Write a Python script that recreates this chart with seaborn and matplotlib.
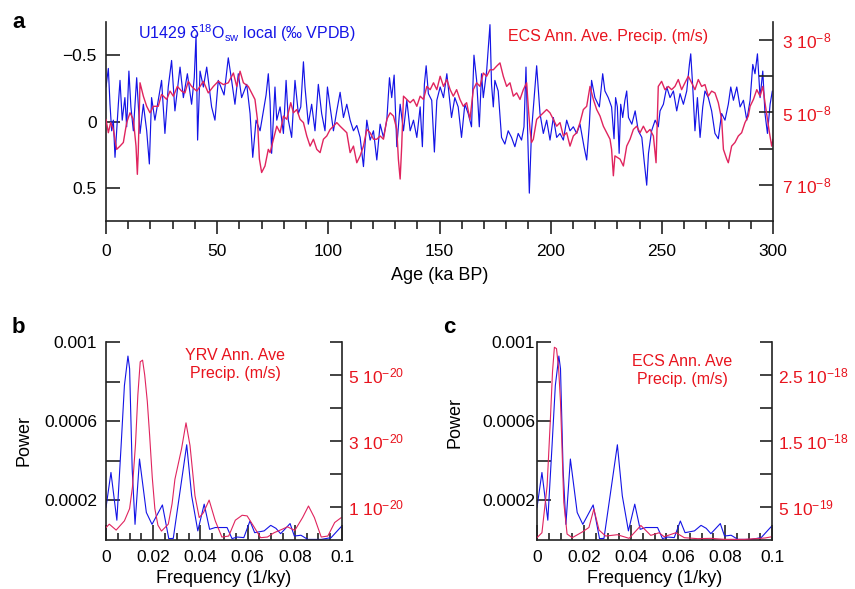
import numpy as np
import pandas as pd
import matplotlib
matplotlib.use("Agg")
import matplotlib.pyplot as plt
from matplotlib.ticker import FixedLocator, MultipleLocator
import seaborn as sns

sns.set_style("ticks")
plt.rcParams['font.family'] = ['Liberation Sans', 'DejaVu Sans']
plt.rcParams['mathtext.fontset'] = 'custom'
plt.rcParams['mathtext.rm'] = 'Liberation Sans'
plt.rcParams['mathtext.it'] = 'Liberation Sans:italic'
plt.rcParams['mathtext.bf'] = 'Liberation Sans:bold'
for k in ('text.color', 'axes.labelcolor', 'xtick.color', 'ytick.color'):
    plt.rcParams[k] = 'black'

# ---------------- data: panel a ----------------
blue_age = [0.0, 1.05, 1.8, 2.55, 3.3, 4.05, 4.8, 5.55, 6.3, 7.3, 8.5, 9.3, 10.3, 11.2, 12.3, 13.8,
            15.3, 16.8, 18.3, 19.5, 20.5, 22.0, 23.5, 25.0, 26.5, 28.0, 29.5, 31.0, 33.3, 34.8, 36.6,
            38.5, 39.7, 40.5, 41.2, 42.3, 43.8, 45.3, 47.5, 49.0, 50.5, 53.1, 55.0, 56.5, 58.0, 59.5,
            61.0, 63.3, 64.8, 66.0, 67.5, 69.3, 70.8, 72.0, 73.0, 73.8, 74.5, 76.0, 76.8, 78.3, 79.8,
            81.0, 82.0, 83.5, 85.0, 86.5, 87.6, 88.8, 89.5, 91.0, 92.5, 94.0, 95.5, 97.0, 98.5, 99.6,
            100.8, 102.3, 103.8, 105.3, 106.8, 108.3, 109.8, 111.3, 112.8, 114.3, 115.8, 117.3, 118.8,
            120.3, 121.8, 123.3, 124.8, 126.3, 127.5, 128.5, 129.6, 130.8, 132.3, 133.8, 135.3, 136.8,
            138.3, 139.8, 141.3, 142.3, 143.2, 144.0, 145.0, 146.5, 147.7, 148.8, 150.3, 151.8, 153.3,
            155.4, 156.9, 158.4, 159.9, 161.4, 162.9, 164.4, 165.5, 166.7, 167.9, 168.9, 169.7, 171.2,
            172.7, 173.4, 174.2, 174.9, 176.4, 177.9, 179.4, 180.9, 182.4, 183.9, 185.4, 186.9, 188.0,
            188.9, 189.5, 190.4, 191.4, 192.5, 193.7, 195.2, 196.7, 198.2, 199.7, 201.2, 202.7, 204.2,
            205.7, 207.2, 208.7, 210.2, 211.7, 213.2, 215.0, 216.2, 217.4, 218.4, 219.9, 221.9, 223.4,
            224.4, 225.9, 227.4, 228.5, 229.2, 230.0, 230.8, 231.5, 232.4, 233.4, 234.2, 235.0, 236.5,
            238.0, 239.4, 241.0, 242.0, 243.2, 244.0, 245.4, 247.0, 248.4, 249.2, 250.7, 252.2, 253.7,
            255.2, 256.7, 258.2, 259.7, 261.2, 262.4, 263.0, 263.9, 264.9, 266.0, 267.2, 268.4, 269.4,
            270.9, 272.4, 273.9, 275.4, 276.9, 278.4, 279.9, 281.0, 282.2, 283.7, 285.2, 286.7, 288.2,
            289.7, 290.9, 291.9, 293.0, 294.2, 295.4, 296.4, 297.5, 298.7, 299.7]
blue_d18o = [-0.26, -0.40, -0.13, 0.07, -0.01, 0.27, 0.07, -0.13, -0.31, -0.01, -0.18, 0.04, -0.38, -0.11, 0.07, -0.33,
             0.09, -0.13, 0.07, 0.32, -0.18, -0.01, -0.16, -0.31, 0.09, -0.26, -0.46, -0.08, -0.41, -0.18, -0.36,
             -0.13, -0.33, -0.65, 0.14, -0.38, -0.26, -0.41, -0.11, -0.01, -0.31, -0.20, -0.48, -0.31, -0.13, -0.36,
             -0.18, -0.28, -0.06, 0.27, -0.01, 0.07, -0.08, -0.20, -0.36, -0.15, 0.24, -0.26, -0.01, -0.11, 0.09,
             -0.31, -0.01, 0.12, -0.31, -0.06, -0.11, -0.45, -0.26, 0.02, -0.13, 0.07, -0.28, -0.06, 0.07, -0.26,
             -0.11, 0.07, -0.08, -0.22, -0.03, -0.13, -0.01, 0.07, 0.03, 0.12, 0.34, -0.01, 0.14,
             0.07, 0.29, 0.02, 0.12, -0.01, -0.33, -0.18, -0.35, 0.19, -0.13, 0.07, -0.16, 0.07,
             -0.01, 0.12, -0.11, 0.19, -0.28, -0.42, -0.21, -0.16, 0.23, -0.16, -0.26, -0.18, -0.36,
             -0.03, -0.18, -0.11, 0.12, -0.13, -0.06, 0.04, -0.50, -0.31, 0.04, -0.36, -0.18, -0.38,
             -0.73, -0.28, -0.11, -0.31, -0.23, 0.12, 0.17, 0.07, 0.12, 0.19, 0.09, 0.14, 0.04,
             -0.41, -0.01, 0.54, 0.07, -0.16, -0.42, -0.06, 0.09, -0.01, 0.14, -0.03, 0.12, 0.09,
             0.14, -0.01, 0.07, 0.04, 0.09, 0.02, 0.19, 0.29, 0.02, -0.31, -0.18, -0.11, -0.36,
             -0.23, -0.18, -0.11, 0.13, -0.18, -0.11, 0.24, -0.13, -0.03, -0.16, -0.23, -0.03, 0.02,
             -0.08, 0.07, 0.12, 0.29, 0.48, 0.24, 0.07, -0.01, 0.04, -0.08, -0.13, -0.26, -0.18,
             -0.23, -0.08, -0.21, -0.13, -0.23, -0.43, -0.51, -0.26, 0.07, -0.18, 0.12, -0.11, -0.23,
             -0.18, -0.08, 0.09, 0.13, -0.06, -0.01, -0.13, -0.26, -0.16, -0.26, -0.11, -0.16, -0.01,
             -0.16, -0.43, -0.36, -0.51, -0.18, -0.38, -0.06, 0.09, -0.13, -0.23]

red_age = [0.0, 1.05, 2.1, 3.3, 4.8, 6.3, 7.8, 9.3, 10.8, 12.3, 13.5, 14.1, 14.5, 15.3, 16.8, 18.3,
           19.8, 21.3, 23.5, 25.0, 27.3, 28.8, 30.3, 32.1, 34.0, 35.5, 37.0, 38.5, 40.8, 42.3, 43.8,
           46.0, 48.3, 50.5, 52.8, 55.0, 57.3, 58.8, 60.3, 61.8, 64.0, 65.5, 67.0, 68.1, 69.0, 70.0,
           71.5, 73.0, 73.8, 75.3, 76.8, 78.3, 79.8, 81.3, 83.1, 84.3, 85.8, 87.3, 88.8, 90.3, 91.8,
           93.3, 94.8, 96.3, 97.8, 99.3, 100.8, 102.3, 103.8, 105.3, 106.8, 108.3, 109.8, 111.3, 112.8,
           114.3, 115.8, 117.3, 118.8, 120.3, 121.8, 123.3, 124.8, 126.3, 127.8, 129.3, 130.8, 131.5,
           132.3, 133.0, 133.8, 135.3, 136.8, 138.3, 139.8, 141.3, 142.8, 144.3, 145.8, 147.3, 148.8,
           150.3, 151.8, 153.3, 154.8, 156.2, 157.7, 159.2, 160.7, 162.2, 163.7, 165.2, 166.7, 168.2,
           169.7, 171.2, 172.7, 174.2, 175.7, 177.2, 178.7, 180.2, 181.7, 183.2, 184.7, 186.2, 187.7,
           189.2, 189.9, 190.7, 191.4, 192.2, 193.7, 195.2, 196.7, 198.2, 199.7, 201.2, 202.7, 204.2,
           205.7, 207.2, 208.7, 210.2, 211.7, 213.2, 214.7, 216.2, 217.7, 219.2, 220.7, 222.2, 223.7,
           225.2, 226.7, 227.4, 228.2, 228.9, 231.2, 232.7, 234.2, 235.7, 237.2, 238.7, 240.2, 241.7,
           243.2, 244.7, 246.2, 247.4, 248.4, 249.9, 251.4, 252.9, 254.4, 255.9, 257.4, 258.9, 260.4,
           261.9, 263.4, 264.9, 266.4, 267.9, 269.4, 270.9, 272.4, 273.9, 275.4, 276.9, 277.7, 279.2,
           279.9, 281.4, 282.9, 284.4, 285.9, 287.4, 288.9, 289.7, 291.2, 292.7, 294.2, 295.4, 296.4,
           297.5, 298.4, 299.4, 300.0]
red_precip_e8 = [5.19, 5.56, 5.28, 5.47, 6.02, 5.93, 5.83, 5.28, 5.01, 5.19, 5.93, 6.71, 6.11, 4.18, 4.55, 4.83,
                 5.01, 4.83, 4.83, 4.50, 4.64, 4.41, 4.55, 4.28, 4.41, 4.46, 4.14, 4.28, 4.41, 4.28, 4.14,
                 4.46, 4.28, 4.14, 4.23, 4.18, 3.91, 4.28, 3.86, 4.18, 4.28, 4.46, 4.64, 5.19, 6.29, 6.66,
                 6.48, 6.02, 6.11, 5.74, 5.38, 5.56, 5.10, 5.19, 4.73, 5.01, 4.92, 5.19, 5.28, 5.65, 5.93,
                 5.74, 6.02, 6.11, 5.74, 5.65, 5.47, 5.38, 5.28, 5.38, 5.47, 5.56, 6.11, 5.93, 6.39,
                 6.20, 5.93, 5.47, 5.56, 5.74, 5.74, 5.65, 5.74, 5.19, 5.01, 5.10, 5.47, 6.29,
                 6.84, 5.93, 4.55, 4.64, 4.73, 4.64, 4.83, 4.55, 4.64, 4.28, 4.37, 4.18, 4.37,
                 4.00, 4.28, 4.09, 4.37, 4.55, 4.37, 4.64, 4.83, 4.73, 5.19, 4.37, 4.18, 4.28,
                 3.91, 4.00, 3.82, 3.82, 3.72, 3.63, 4.00, 4.28, 4.18, 4.55, 4.46, 4.64, 4.37,
                 4.18, 4.83, 5.47, 5.83, 5.74, 5.19, 5.10, 5.01, 4.92, 5.01, 5.19, 5.38, 5.28,
                 5.65, 5.56, 5.93, 5.65, 5.56, 5.28, 4.92, 4.83, 4.28, 4.64, 4.92, 5.10, 5.38,
                 5.56, 5.74, 6.02, 6.75, 6.20, 6.29, 6.48, 5.93, 5.74, 5.47, 5.38, 5.56, 5.38,
                 5.56, 5.47, 5.65, 6.39, 4.28, 4.14, 4.37, 4.28, 4.37, 4.28, 4.09, 4.37, 4.18,
                 4.00, 4.18, 4.37, 4.09, 4.28, 4.23, 4.55, 4.41, 4.46, 4.73, 5.19, 6.02, 6.29,
                 6.39, 5.93, 5.83, 5.65, 5.56, 5.28, 5.10, 4.83, 4.64, 4.37, 4.55, 4.28, 4.73,
                 5.19, 5.56, 5.93, 5.74]

# ---------------- data: spectra ----------------
blue_freq = [0.0, 0.0021, 0.0046, 0.0064, 0.0078, 0.0093, 0.0100, 0.0111, 0.0123, 0.0142, 0.0171, 0.0195,
             0.0239, 0.0266, 0.0285, 0.0313, 0.0342, 0.0363, 0.0389, 0.0416, 0.0439, 0.0463, 0.0513,
             0.0534, 0.0556, 0.0584, 0.0610, 0.0630, 0.0670, 0.0698, 0.0720, 0.0740, 0.0780, 0.0798,
             0.0826, 0.0855, 0.0912, 0.0954, 0.0997]
blue_power_e3 = [0.164, 0.341, 0.100, 0.476, 0.780, 0.929, 0.865, 0.358, 0.079, 0.409, 0.139, 0.079,
                 0.177, 0.007, 0.008, 0.240, 0.481, 0.223, 0.046, 0.181, 0.054, 0.063, 0.063,
                 0.007, 0.015, 0.012, 0.096, 0.037, 0.046, 0.074, 0.059, 0.032, 0.083, 0.020,
                 0.024, 0.003, 0.003, 0.012, 0.068]

yrv_freq = [0.0, 0.0014, 0.0043, 0.0078, 0.0100, 0.0112, 0.0125, 0.0135, 0.0145, 0.0155, 0.0164, 0.0175,
            0.0185, 0.0196, 0.0207, 0.0220, 0.0235, 0.0264,
            0.0280, 0.0292, 0.0320, 0.0339, 0.0356, 0.0368, 0.0377, 0.0395, 0.0413, 0.0437, 0.0463, 0.0491, 0.0520,
            0.0548, 0.0577, 0.0598, 0.0627, 0.0655, 0.0684, 0.0712, 0.0748, 0.0769, 0.0800, 0.0833,
            0.0858, 0.0883, 0.0912, 0.0940, 0.0969, 0.0997]
yrv_power_e20 = [0.375, 0.48, 0.30, 0.58, 0.95, 1.60, 2.90, 4.40, 5.40, 5.45, 5.00, 4.20,
                 3.16, 1.90, 0.95, 0.45, 0.27, 0.48,
                 1.10, 1.84, 2.76, 3.55, 2.86, 2.00, 1.34, 0.68, 0.83, 1.21, 0.58, 0.09, 0.12,
                 0.60, 0.75, 0.73, 0.40, 0.07, 0.09, 0.22, 0.33, 0.40, 0.29, 0.68,
                 1.03, 0.68, 0.09, 0.12, 0.53, 0.68]

ecs_freq = [0.0, 0.0021, 0.0043, 0.0057, 0.0066, 0.0074, 0.0083, 0.0092, 0.0100, 0.0114, 0.0128, 0.0150,
            0.0192, 0.0221, 0.0242, 0.0264, 0.0292, 0.0342, 0.0392, 0.0442, 0.0484, 0.0520, 0.0541,
            0.0591, 0.0627, 0.0684, 0.0740, 0.0798, 0.0883, 0.0970, 0.1000]
ecs_power_e18 = [0.035, 0.11, 0.82, 1.83, 2.55, 2.92, 2.90, 2.60, 2.09, 0.57, 0.09, 0.035,
                 0.12, 0.19, 0.47, 0.15, 0.06, 0.08, 0.025, 0.22, 0.07, 0.11, 0.05,
                 0.11, 0.035, 0.02, 0.025, 0.01, 0.01, 0.03, 0.05]

BLUE = '#1414e6'
RED_LINE = '#e0245e'
RED_TXT = '#e8141e'
SPINE = '#222222'

df_blue = pd.DataFrame({'age': blue_age, 'd18o': blue_d18o})
df_red = pd.DataFrame({'age': red_age, 'precip': np.array(red_precip_e8) * 1e-8})
df_bs = pd.DataFrame({'f': blue_freq, 'p': np.array(blue_power_e3) * 1e-3})
df_yrv = pd.DataFrame({'f': yrv_freq, 'p': np.array(yrv_power_e20) * 1e-20})
df_ecs = pd.DataFrame({'f': ecs_freq, 'p': np.array(ecs_power_e18) * 1e-18})

fig = plt.figure(figsize=(8.55, 5.89), dpi=100)
W, H = 855, 589


def rect(l, r, t, b):
    return [l / W, 1 - b / H, (r - l) / W, (b - t) / H]


def style_pair(ax, ax2):
    for a in (ax, ax2):
        a.spines['top'].set_visible(False)
        for s in a.spines.values():
            s.set_color(SPINE)
            s.set_linewidth(1.2)
    ax.spines['right'].set_visible(False)
    ax2.spines['left'].set_visible(False)
    ax2.spines['bottom'].set_visible(False)
    ax.set_facecolor('none')


# ---------------- panel a ----------------
axa = fig.add_axes(rect(106, 773, 22, 221))
axa2 = axa.twinx()
sns.lineplot(data=df_blue, x='age', y='d18o', ax=axa, color=BLUE, lw=0.85, estimator=None, sort=False)
sns.lineplot(data=df_red, x='age', y='precip', ax=axa2, color=RED_LINE, lw=1.0, estimator=None, sort=False)
style_pair(axa, axa2)
axa.set_xlim(0, 300)
axa.set_ylim(0.75, -0.75)
axa2.set_ylim(8e-8, 2.5e-8)
axa.set_yticks([-0.5, 0, 0.5])
axa.set_yticklabels(['\u22120.5', '0', '0.5'])
axa.xaxis.set_major_locator(MultipleLocator(50))
axa.xaxis.set_minor_locator(MultipleLocator(10))
axa.tick_params(axis='x', which='major', direction='out', length=9.5, width=1.2, pad=7, labelsize=12.5, color=SPINE)
axa.tick_params(axis='x', which='minor', direction='out', length=6, width=1.2, color=SPINE)
axa.tick_params(axis='y', which='major', direction='in', length=10, width=1.2, pad=6.5, labelsize=12.5, color=SPINE)
axa2.set_yticks([3e-8, 5e-8, 7e-8])
axa2.set_yticklabels([r'3 10$^{\mathregular{-8}}$', r'5 10$^{\mathregular{-8}}$', r'7 10$^{\mathregular{-8}}$'])
axa2.yaxis.set_minor_locator(FixedLocator([4e-8, 6e-8]))
axa2.tick_params(axis='y', which='both', direction='in', length=10, width=1.2, pad=6.5, labelsize=12.5,
                 labelcolor=RED_TXT, color=SPINE)
axa.set_xlabel('Age (ka BP)', fontsize=13, labelpad=6)
axa.set_ylabel('')
axa2.set_ylabel('')

fig.text(138 / W, 1 - 39 / H, 'U1429 \u03b4$^{\\mathregular{18}}$O$_{\\mathregular{sw}}$ local (\u2030 VPDB)',
         color=BLUE, fontsize=11.5, va='baseline', ha='left')
fig.text(508 / W, 1 - 41.5 / H, 'ECS Ann. Ave. Precip. (m/s)', color=RED_TXT, fontsize=11.5,
         va='baseline', ha='left')
fig.text(12 / W, 1 - 28 / H, 'a', fontsize=16, fontweight='bold', va='baseline')


# ---------------- panels b, c ----------------
def spectrum_panel(l, r, df_red_s, ylim2, ticks2, labels2, minor2, text_xy, text, ypad, power_y):
    ax = fig.add_axes(rect(l, r, 342, 540))
    ax2 = ax.twinx()
    sns.lineplot(data=df_bs, x='f', y='p', ax=ax, color=BLUE, lw=0.8, estimator=None, sort=False)
    sns.lineplot(data=df_red_s, x='f', y='p', ax=ax2, color=RED_LINE, lw=0.8, estimator=None, sort=False)
    style_pair(ax, ax2)
    ax.set_xlim(0, 0.1)
    ax.set_ylim(0, 0.001)
    ax2.set_ylim(*ylim2)
    ax.set_xticks([0, 0.02, 0.04, 0.06, 0.08, 0.1])
    ax.set_xticklabels(['0', '0.02', '0.04', '0.06', '0.08', '0.1'])
    ax.xaxis.set_minor_locator(MultipleLocator(0.005))
    ax.set_yticks([0.0002, 0.0006, 0.001])
    ax.set_yticklabels(['0.0002', '0.0006', '0.001'])
    ax.yaxis.set_minor_locator(FixedLocator([0.0004, 0.0008]))
    ax.tick_params(axis='x', which='major', direction='in', length=10.5, width=1.2, pad=7, labelsize=12.5, color=SPINE)
    ax.tick_params(axis='x', which='minor', direction='in', length=5, width=1.2, color=SPINE)
    ax.tick_params(axis='y', which='both', direction='in', length=10, width=1.2, pad=ypad, labelsize=12.5, color=SPINE)
    ax2.set_yticks(ticks2)
    ax2.set_yticklabels(labels2)
    ax2.yaxis.set_minor_locator(FixedLocator(minor2))
    ax2.tick_params(axis='y', which='both', direction='in', length=9, width=1.2, pad=4.5, labelsize=12.5,
                    labelcolor=RED_TXT, color=SPINE)
    ax.set_xlabel('Frequency (1/ky)', fontsize=13, labelpad=4)
    ax.set_ylabel('')
    ax2.set_ylabel('')
    fig.text((l - 82) / W, 1 - power_y / H, 'Power', rotation=90, fontsize=13, ha='center', va='center')
    fig.text(text_xy[0] / W, 1 - text_xy[1] / H, text, color=RED_TXT, fontsize=11.5, ha='center',
             va='top', linespacing=1.25)
    return ax


spectrum_panel(106, 342, df_yrv, (0, 6e-20), [1e-20, 3e-20, 5e-20],
               [r'1 10$^{\mathregular{-20}}$', r'3 10$^{\mathregular{-20}}$', r'5 10$^{\mathregular{-20}}$'],
               [2e-20, 4e-20, 6e-20], (235, 348), 'YRV Ann. Ave\nPrecip. (m/s)', 6.5, 441)
spectrum_panel(537, 772, df_ecs, (0, 3e-18), [0.5e-18, 1.5e-18, 2.5e-18],
               [r'5 10$^{\mathregular{-19}}$', r'1.5 10$^{\mathregular{-18}}$', r'2.5 10$^{\mathregular{-18}}$'],
               [1e-18, 2e-18, 3e-18], (682, 354), 'ECS Ann. Ave\nPrecip. (m/s)', 1.5, 423)
fig.text(12 / W, 1 - 333 / H, 'b', fontsize=16, fontweight='bold', va='baseline')
fig.text(443 / W, 1 - 333 / H, 'c', fontsize=16, fontweight='bold', va='baseline')

fig.savefig('out.png', dpi=100)
